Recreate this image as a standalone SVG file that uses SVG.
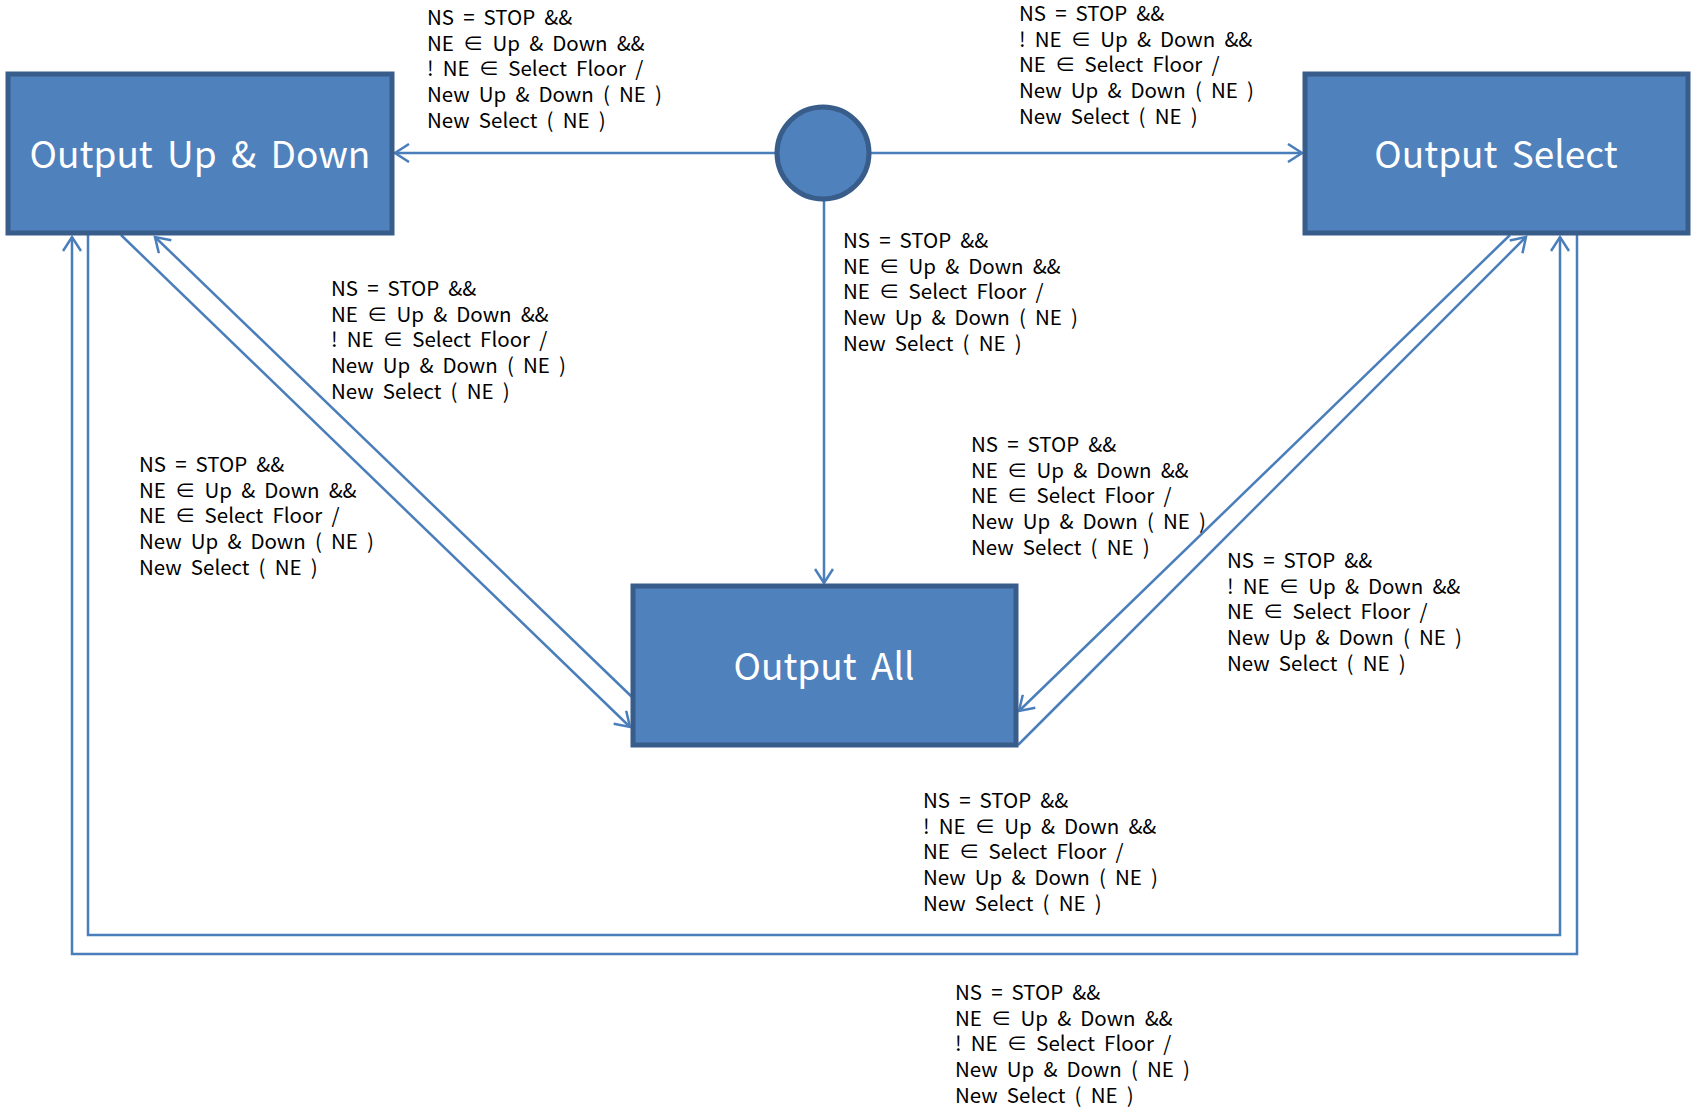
<svg xmlns="http://www.w3.org/2000/svg" width="1691" height="1109" viewBox="0 0 1691 1109">
<style>
.node{fill:#4F81BD;stroke:#385D8A;stroke-width:5}
.title{font-family:"Noto Sans CJK KR","Noto Sans",sans-serif;font-size:37px;fill:#FFFFFF;text-anchor:middle;word-spacing:6px}
.conn{fill:none;stroke:#4A7EBB;stroke-width:2.5}
.lbl{font-family:"Noto Sans CJK KR","Noto Sans",sans-serif;font-size:20.5px;fill:#000000;word-spacing:4.5px}
</style>
<defs>
<marker id="arr" markerWidth="20" markerHeight="20" refX="16" refY="10" orient="auto" markerUnits="userSpaceOnUse">
<path d="M2,1 L16,10 L2,19" fill="none" stroke="#4A7EBB" stroke-width="2.5"/>
</marker>
</defs>
<rect width="1691" height="1109" fill="#FFFFFF"/>
<g id="connectors">
<line class="conn" x1="776" y1="153" x2="395" y2="153" marker-end="url(#arr)"/>
<line class="conn" x1="870" y1="153" x2="1302" y2="153" marker-end="url(#arr)"/>
<line class="conn" x1="824" y1="200" x2="824" y2="583" marker-end="url(#arr)"/>
<line class="conn" x1="121" y1="235" x2="630" y2="727" marker-end="url(#arr)"/>
<line class="conn" x1="632" y1="697" x2="155" y2="237" marker-end="url(#arr)"/>
<line class="conn" x1="1510" y1="235" x2="1019" y2="711" marker-end="url(#arr)"/>
<line class="conn" x1="1018" y1="745" x2="1526" y2="237" marker-end="url(#arr)"/>
<polyline class="conn" points="88,235 88,935 1560,935 1560,237" marker-end="url(#arr)"/>
<polyline class="conn" points="1577,235 1577,954 72,954 72,237" marker-end="url(#arr)"/>
</g>
<g id="node-updown">
<rect class="node" x="8" y="74" width="384" height="159"/>
<text class="title" x="200" y="168">Output Up &amp; Down</text>
</g>
<g id="node-start">
<circle class="node" cx="823" cy="153" r="46"/>
</g>
<g id="node-select">
<rect class="node" x="1305" y="74" width="383" height="159"/>
<text class="title" x="1496" y="168">Output Select</text>
</g>
<g id="node-all">
<rect class="node" x="633" y="586" width="383" height="159"/>
<text class="title" x="824" y="680">Output All</text>
</g>
<g id="labels">
<text class="lbl" x="427" y="25"><tspan x="427">NS = STOP &amp;&amp;</tspan><tspan x="427" dy="25.7">NE ∈ Up &amp; Down &amp;&amp;</tspan><tspan x="427" dy="25.7">! NE ∈ Select Floor /</tspan><tspan x="427" dy="25.7">New Up &amp; Down ( NE )</tspan><tspan x="427" dy="25.7">New Select ( NE )</tspan></text>
<text class="lbl" x="1019" y="21"><tspan x="1019">NS = STOP &amp;&amp;</tspan><tspan x="1019" dy="25.7">! NE ∈ Up &amp; Down &amp;&amp;</tspan><tspan x="1019" dy="25.7">NE ∈ Select Floor /</tspan><tspan x="1019" dy="25.7">New Up &amp; Down ( NE )</tspan><tspan x="1019" dy="25.7">New Select ( NE )</tspan></text>
<text class="lbl" x="843" y="248"><tspan x="843">NS = STOP &amp;&amp;</tspan><tspan x="843" dy="25.7">NE ∈ Up &amp; Down &amp;&amp;</tspan><tspan x="843" dy="25.7">NE ∈ Select Floor /</tspan><tspan x="843" dy="25.7">New Up &amp; Down ( NE )</tspan><tspan x="843" dy="25.7">New Select ( NE )</tspan></text>
<text class="lbl" x="331" y="296"><tspan x="331">NS = STOP &amp;&amp;</tspan><tspan x="331" dy="25.7">NE ∈ Up &amp; Down &amp;&amp;</tspan><tspan x="331" dy="25.7">! NE ∈ Select Floor /</tspan><tspan x="331" dy="25.7">New Up &amp; Down ( NE )</tspan><tspan x="331" dy="25.7">New Select ( NE )</tspan></text>
<text class="lbl" x="139" y="472"><tspan x="139">NS = STOP &amp;&amp;</tspan><tspan x="139" dy="25.7">NE ∈ Up &amp; Down &amp;&amp;</tspan><tspan x="139" dy="25.7">NE ∈ Select Floor /</tspan><tspan x="139" dy="25.7">New Up &amp; Down ( NE )</tspan><tspan x="139" dy="25.7">New Select ( NE )</tspan></text>
<text class="lbl" x="971" y="452"><tspan x="971">NS = STOP &amp;&amp;</tspan><tspan x="971" dy="25.7">NE ∈ Up &amp; Down &amp;&amp;</tspan><tspan x="971" dy="25.7">NE ∈ Select Floor /</tspan><tspan x="971" dy="25.7">New Up &amp; Down ( NE )</tspan><tspan x="971" dy="25.7">New Select ( NE )</tspan></text>
<text class="lbl" x="1227" y="568"><tspan x="1227">NS = STOP &amp;&amp;</tspan><tspan x="1227" dy="25.7">! NE ∈ Up &amp; Down &amp;&amp;</tspan><tspan x="1227" dy="25.7">NE ∈ Select Floor /</tspan><tspan x="1227" dy="25.7">New Up &amp; Down ( NE )</tspan><tspan x="1227" dy="25.7">New Select ( NE )</tspan></text>
<text class="lbl" x="923" y="808"><tspan x="923">NS = STOP &amp;&amp;</tspan><tspan x="923" dy="25.7">! NE ∈ Up &amp; Down &amp;&amp;</tspan><tspan x="923" dy="25.7">NE ∈ Select Floor /</tspan><tspan x="923" dy="25.7">New Up &amp; Down ( NE )</tspan><tspan x="923" dy="25.7">New Select ( NE )</tspan></text>
<text class="lbl" x="955" y="1000"><tspan x="955">NS = STOP &amp;&amp;</tspan><tspan x="955" dy="25.7">NE ∈ Up &amp; Down &amp;&amp;</tspan><tspan x="955" dy="25.7">! NE ∈ Select Floor /</tspan><tspan x="955" dy="25.7">New Up &amp; Down ( NE )</tspan><tspan x="955" dy="25.7">New Select ( NE )</tspan></text>
</g>
</svg>
